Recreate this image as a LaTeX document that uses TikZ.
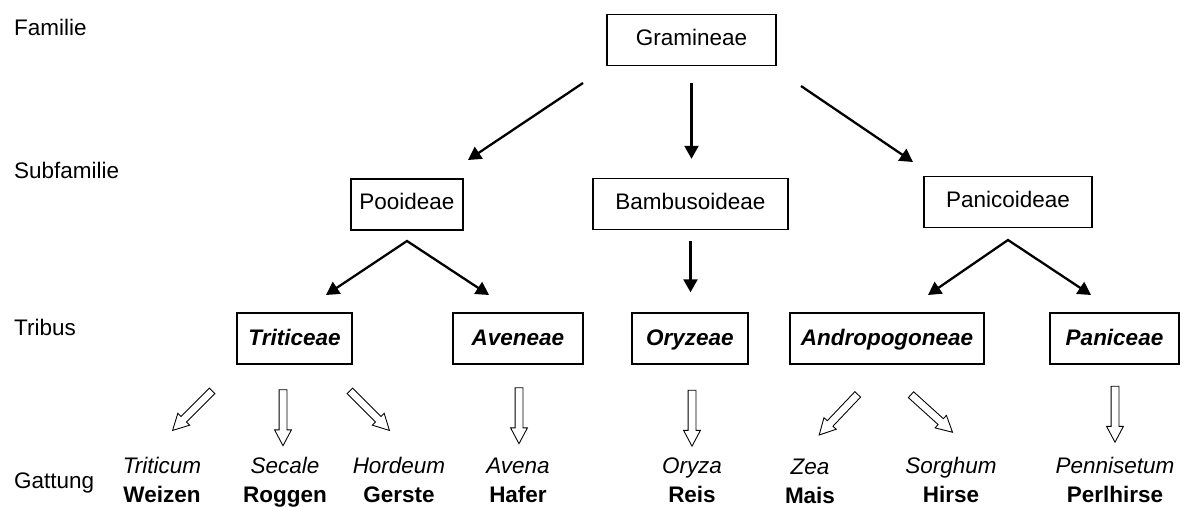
\documentclass[tikz,border=0pt]{standalone}
\usepackage{fontspec}
\setmainfont{Liberation Sans}
\usetikzlibrary{arrows.meta, shapes.arrows}

\begin{document}
\begin{tikzpicture}[
    x=0.02cm, y=-0.02cm,
    every node/.style={font=\fontsize{12.8}{17}\selectfont},
    taxon/.style={draw, line width=0.8pt, minimum height=1.02cm, inner sep=0pt, text height=0.75em, text depth=0.15em},
    tribe/.style={taxon, font=\fontsize{12.8}{17}\selectfont\bfseries\itshape, text height=0.8em, text depth=0.05em},
    branch/.style={-{Triangle[length=0.26cm, width=0.28cm]}, line width=1.3pt},
    fork/.style={{Triangle[length=0.26cm, width=0.28cm]}-{Triangle[length=0.26cm, width=0.28cm]}, line width=1.3pt},
    hollow/.style={single arrow, draw, line width=0.5pt, inner sep=0.07cm, single arrow head extend=0.09cm, single arrow tip angle=56, minimum height=1.12cm}
]
    \useasboundingbox (0,0) rectangle (1194,507);

    % ranks
    \node[anchor=base west] (familie) at (8,35) {Familie};
    \node[anchor=base west] (subfam) at (8,178) {Subfamilie};
    \node[anchor=base west] (tribus) at (8,335) {Tribus};
    \node[anchor=base west] (gattung) at (8,488) {Gattung};

    \node[taxon, minimum width=3.38cm] (gram) at (691.5,40) {Gramineae};
    \node[taxon, minimum width=2.24cm] (pooi) at (407,204.5) {Pooideae};
    \node[taxon, minimum width=3.9cm] (bamb) at (690.5,204) {Bambusoideae};
    \node[taxon, minimum width=3.36cm] (pani) at (1008,202) {Panicoideae};

    \node[tribe, minimum width=2.3cm] (trit) at (294.5,338.5) {Triticeae};
    \node[tribe, minimum width=2.6cm] (aven) at (518,338.5) {Aveneae};
    \node[tribe, minimum width=2.32cm] (oryz) at (690,338.5) {Oryzeae};
    \node[tribe, minimum width=3.88cm] (andr) at (887,338.5) {Andropogoneae};
    \node[tribe, minimum width=2.58cm] (panc) at (1114.5,338.5) {Paniceae};

    \coordinate (gram-l) at (583,83);
    \coordinate (gram-r) at (801,86);
    \coordinate (pooi-in) at (468,160);
    \coordinate (pani-in) at (913,162);
    \coordinate (pooi-fork) at (407,241);
    \coordinate (trit-in) at (326,295);
    \coordinate (aven-in) at (489,295);
    \coordinate (pani-fork) at (1008,240);
    \coordinate (andr-in) at (928,295);
    \coordinate (panc-in) at (1091,295);

    \draw[branch] (gram-l) -- (pooi-in);
    \draw[branch, shorten <=0.34cm, shorten >=0.38cm] (gram.south) -- (gram.south |- bamb.north);
    \draw[branch] (gram-r) -- (pani-in);
    \draw[fork] (trit-in) -- (pooi-fork) -- (aven-in);
    \draw[branch, shorten <=0.22cm, shorten >=0.4cm] (bamb.south) -- (bamb.south |- oryz.north);
    \draw[fork] (andr-in) -- (pani-fork) -- (panc-in);

    % genera
    \foreach \n/\x/\y/\gen/\com in {weizen/162/482/Triticum/Weizen, roggen/285/482/Secale/Roggen,
        gerste/399/482/Hordeum/Gerste, hafer/518/482/Avena/Hafer, reis/692/482/Oryza/Reis,
        mais/810/483/Zea/Mais, hirse/951/482/Sorghum/Hirse, perlhirse/1115/482/Pennisetum/Perlhirse}
        \node[align=center, inner sep=0pt] (\n) at (\x,\y) {\textit{\gen\strut}\\\textbf{\com\strut}};

    \foreach \xa/\ya/\xb/\yb in {215/388/175/428, 283/386/283/442, 347/388/387/428, 519/385/519/439,
        692/387/692/442, 860/392/822/432, 908/392/950/430, 1115/383/1115/438}
        \path (\xa,\ya) -- (\xb,\yb) node[hollow, midway, sloped, allow upside down] {};
\end{tikzpicture}
\end{document}
